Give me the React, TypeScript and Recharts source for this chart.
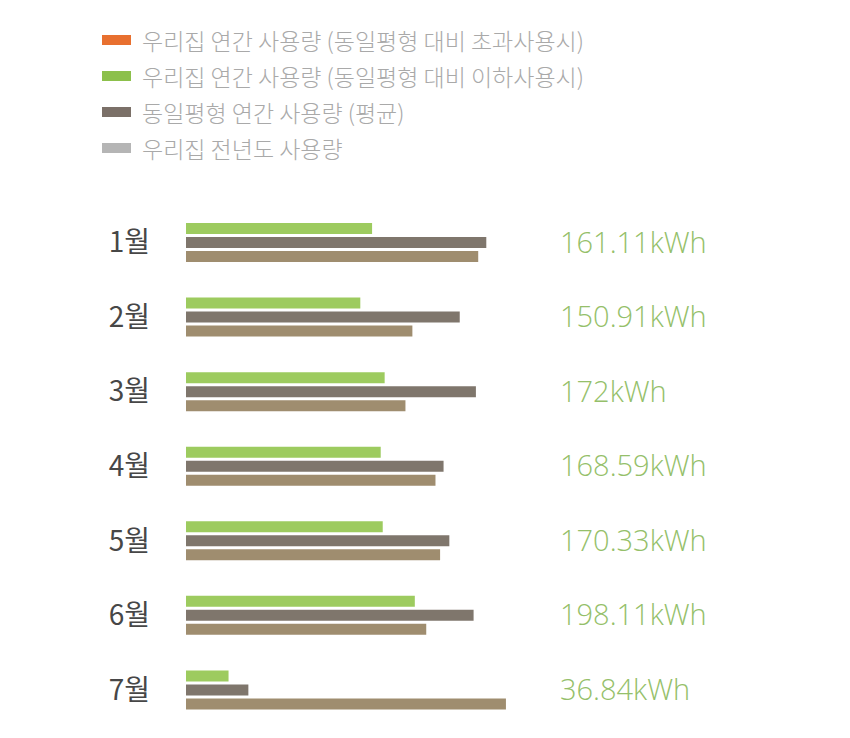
import { Bar, BarChart, Legend, XAxis, YAxis } from 'recharts'

const months = ['1월', '2월', '3월', '4월', '5월', '6월', '7월']
const myUsage = [161.11, 150.91, 172, 168.59, 170.33, 198.11, 36.84]
const avgUsage = [260, 237, 251, 223, 228, 249, 54]
const lastYear = [253, 196, 190, 216, 220, 208, 277]
const valueLabels = ['161.11kWh', '150.91kWh', '172kWh', '168.59kWh', '170.33kWh', '198.11kWh', '36.84kWh']

const legendItems = [
  { label: '우리집 연간 사용량 (동일평형 대비 초과사용시)', color: '#e8702f' },
  { label: '우리집 연간 사용량 (동일평형 대비 이하사용시)', color: '#8cc04b' },
  { label: '동일평형 연간 사용량 (평균)', color: '#7b7068' },
  { label: '우리집 전년도 사용량', color: '#b5b5b5' },
]

const data = months.map((month, i) => ({
  month,
  mine: myUsage[i],
  avg: avgUsage[i],
  last: lastYear[i],
}))

const KR_FONT = '"Noto Sans CJK KR", "Noto Sans", sans-serif'

function LegendBox() {
  return (
    <div style={{ display: 'flex', flexDirection: 'column' }}>
      {legendItems.map((item) => (
        <div key={item.label} style={{ display: 'flex', alignItems: 'center', height: 36 }}>
          <span style={{ width: 29, height: 10, background: item.color, marginRight: 11 }} />
          <span style={{ fontFamily: KR_FONT, fontSize: 23, fontWeight: 300, color: '#a9a9a9' }}>
            {item.label}
          </span>
        </div>
      ))}
    </div>
  )
}

export default function App() {
  return (
    <div style={{ position: 'absolute', left: 0, top: 0, width: 850, height: 738, background: '#fff' }}>
      <BarChart
        width={850}
        height={738}
        data={data}
        layout="vertical"
        barSize={11}
        barGap={3}
        margin={{ top: 205, right: 20, bottom: 11, left: 106 }}
      >
        <XAxis type="number" domain={[0, 300]} hide />
        <YAxis
          yAxisId="left"
          type="category"
          dataKey="month"
          width={80}
          axisLine={false}
          tickLine={false}
          tickSize={0}
          tickMargin={36}
          tick={{ fill: '#474747', fontSize: 28, fontFamily: KR_FONT }}
        />
        <YAxis
          yAxisId="right"
          orientation="right"
          type="category"
          dataKey="month"
          width={297.5}
          axisLine={false}
          tickLine={false}
          tickSize={0}
          tickMargin={27.5}
          tickFormatter={(m: string) => valueLabels[months.indexOf(m)]}
          tick={{ fill: '#95bf6a', fontSize: 29, fontFamily: '"Open Sans", "Noto Sans", sans-serif', fontWeight: 300 }}
        />
        <Legend
          verticalAlign="middle"
          align="center"
          layout="vertical"
          wrapperStyle={{ top: 22, left: 102, width: 650 }}
          content={() => <LegendBox />}
        />
        <Bar yAxisId="left" dataKey="mine" fill="#9dcb5f" isAnimationActive={false} />
        <Bar yAxisId="left" dataKey="avg" fill="#7f766c" isAnimationActive={false} />
        <Bar yAxisId="left" dataKey="last" fill="#9f8d6f" isAnimationActive={false} />
      </BarChart>
    </div>
  )
}
